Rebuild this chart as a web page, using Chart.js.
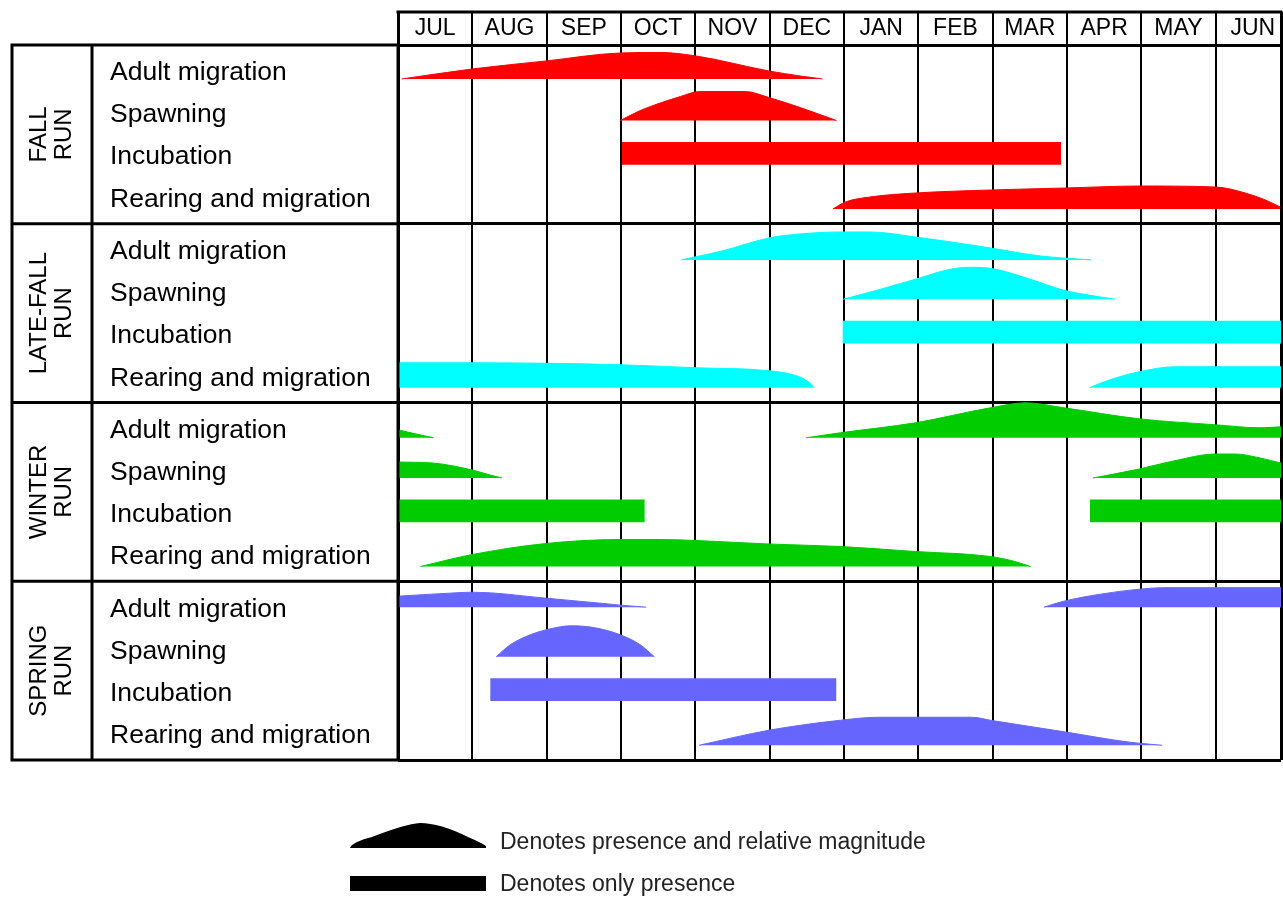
<!DOCTYPE html>
<html>
<head>
<meta charset="utf-8">
<script src="https://cdn.jsdelivr.net/npm/chart.js@4.4.1/dist/chart.umd.min.js"></script>
<style>html,body{margin:0;padding:0;background:#fff;overflow:hidden}</style>
</head>
<body>
<canvas id="runChart" width="1283" height="900"></canvas>
<script>
// ---- data ----
const months = ['JUL','AUG','SEP','OCT','NOV','DEC','JAN','FEB','MAR','APR','MAY','JUN'];
const runNames = [['FALL','RUN'],['LATE-FALL','RUN'],['WINTER','RUN'],['SPRING','RUN']];
const stages = ['Adult migration','Spawning','Incubation','Rearing and migration'];
const runColors = ['#ff0000','#00ffff','#00cc00','#6666ff'];

// [months since 1 Jul, relative magnitude]
const fallAdult = [[0.05,0],[1.0,10],[1.99,18],[2.99,26],[3.53,26.5],[4.01,23],[4.99,8],[5.41,3],[5.71,0]];
const fallSpawning = [[2.99,0],[3.26,10],[3.80,24],[4.06,29],[4.67,29],[4.99,23],[5.41,13],[5.90,0]];
const fallIncubation = [3.01, 8.92];
const fallRearing = [[5.85,0],[6.02,7],[6.35,12],[6.96,16],[7.97,19],[8.98,21],[9.99,23],[11.0,22],[11.4,16],[11.67,9],[11.87,2]];

const lateAdult = [[3.81,0],[4.06,4],[4.36,9],[4.99,22],[5.41,26],[5.95,28],[6.35,28],[6.96,23],[7.97,12],[8.64,4],[9.33,0]];
const lateSpawning = [[5.99,0],[6.49,10],[6.96,20],[7.43,30],[7.70,32],[7.97,31],[8.51,20],[8.96,9],[9.31,4],[9.65,0]];
const lateIncubation = [5.98, 11.88];
const lateRearingA = [[0,25],[1.0,25],[1.99,24.5],[2.99,23],[4.01,20],[4.99,17],[5.36,12],[5.52,6],[5.60,0]];
const lateRearingB = [[9.30,0],[9.58,8],[9.97,16],[10.46,21],[11.0,21],[11.88,21]];

const winterAdultA = [[0,8],[0.23,4],[0.48,0]];
const winterAdultB = [[5.49,0],[5.95,5],[6.96,15],[7.97,30],[8.44,35],[8.96,30],[9.97,19],[11.0,13],[11.6,10],[11.88,11]];
const winterSpawningA = [[0,16],[0.47,15],[1.0,8],[1.24,3],[1.40,0]];
const winterSpawningB = [[9.35,0],[9.97,9],[10.43,17],[11.0,24],[11.27,24],[11.6,20],[11.88,15]];
const winterIncubationA = [0, 3.32];
const winterIncubationB = [9.31, 11.88];
const winterRearing = [[0.30,0],[1.0,12],[1.99,23],[2.99,27],[3.53,27],[4.01,26],[4.99,22.5],[5.95,20],[6.96,15],[7.97,10],[8.30,5],[8.51,0]];

const springAdultA = [[0,11],[0.69,14],[1.0,15],[1.99,9],[2.72,4],[2.99,2],[3.34,0]];
const springAdultB = [[8.69,0],[8.96,6],[9.45,13],[9.97,18],[10.32,19.5],[11.88,19.5]];
const springSpawning = [[1.32,0],[1.51,12],[1.78,22],[2.05,28],[2.33,31],[2.65,29],[2.99,22],[3.26,12],[3.45,0]];
const springIncubation = [1.24, 5.90];
const springRearing = [[4.05,0],[4.99,15],[5.95,25],[6.46,28],[7.73,28],[7.97,25],[8.96,13.5],[9.85,3],[10.28,0]];

const legendText = ['Denotes presence and relative magnitude','Denotes only presence'];

// [run, stage, profile]
const humps = [
  [0,0,fallAdult],[0,1,fallSpawning],[0,3,fallRearing],
  [1,0,lateAdult],[1,1,lateSpawning],[1,3,lateRearingA],[1,3,lateRearingB],
  [2,0,winterAdultA],[2,0,winterAdultB],[2,1,winterSpawningA],[2,1,winterSpawningB],[2,3,winterRearing],
  [3,0,springAdultA],[3,0,springAdultB],[3,1,springSpawning],[3,3,springRearing]
];
const bars = [[0,fallIncubation],[1,lateIncubation],[2,winterIncubationA],[2,winterIncubationB],[3,springIncubation]];

// ---- layout (rows inside a run) ----
const X_MAX = 11.88;
const MAG_PER_ROW = 44.7;
const HEADER_H = 33;
const ADULT_BASE = [0.76, 0.81, 0.79, 0.58];
const SPAWN_BASE = 1.69, REAR_BASE = 3.67;
const BAR_TOP = 2.17, BAR_BOTTOM = 2.68;
const LABEL_POS = [0.627, 1.566, 2.506, 3.457];
const FONT = 'Liberation Sans';

function humpSet(run, stage, pts){
  const base = run*4 + (stage === 0 ? ADULT_BASE[run] : stage === 1 ? SPAWN_BASE : REAR_BASE);
  return {
    data: pts.map(p => ({x: p[0], y: base - p[1]/MAG_PER_ROW})),
    fill: {value: base},
    backgroundColor: runColors[run],
    borderColor: runColors[run],
    borderWidth: 1,
    pointRadius: 0,
    cubicInterpolationMode: 'monotone'
  };
}
function barSet(run, span){
  const top = run*4 + BAR_TOP;
  return {
    data: [{x: span[0], y: top}, {x: span[1], y: top}],
    fill: {value: run*4 + BAR_BOTTOM},
    backgroundColor: runColors[run],
    borderColor: runColors[run],
    borderWidth: 0,
    pointRadius: 0
  };
}

const xTicks = [];
for (let i = 0; i < 12; i++){ xTicks.push(i, i + 0.5); }
xTicks.push(X_MAX);
const yTicks = [];
runNames.forEach((r, g) => LABEL_POS.forEach(p => yTicks.push(g*4 + p)));

const tableFrame = {
  id: 'tableFrame',
  afterDraw(chart){
    const {ctx, chartArea: a, scales: {y}} = chart;
    const left = 12, split = 92;
    ctx.save();
    ctx.strokeStyle = '#000';
    ctx.lineWidth = 3;
    ctx.beginPath();
    ctx.moveTo(a.left - 1.5, a.top - HEADER_H);
    ctx.lineTo(a.right + 1.5, a.top - HEADER_H);
    ctx.rect(left, a.top, a.left - left, a.bottom - a.top);
    ctx.moveTo(split, a.top); ctx.lineTo(split, a.bottom);
    [4, 8, 12].forEach(v => {
      const py = y.getPixelForValue(v);
      ctx.moveTo(left, py); ctx.lineTo(a.left, py);
    });
    ctx.stroke();

    // run names, rotated
    ctx.fillStyle = '#000';
    ctx.font = '24px ' + FONT;
    ctx.textAlign = 'center';
    ctx.textBaseline = 'middle';
    runNames.forEach((lines, g) => {
      const cy = (y.getPixelForValue(g*4) + y.getPixelForValue(g*4 + 4)) / 2;
      ctx.save();
      ctx.translate((left + split) / 2, cy);
      ctx.rotate(-Math.PI / 2);
      lines.forEach((t, i) => ctx.fillText(t, 0, (i - (lines.length - 1) / 2) * 25));
      ctx.restore();
    });

    // legend
    ctx.beginPath();
    ctx.moveTo(350, 848);
    ctx.quadraticCurveTo(352, 842, 372, 837);
    ctx.quadraticCurveTo(405, 824, 420, 823);
    ctx.quadraticCurveTo(440, 823, 468, 837);
    ctx.quadraticCurveTo(482, 843, 486, 846);
    ctx.lineTo(486, 848);
    ctx.closePath();
    ctx.fill();
    ctx.fillRect(350, 876, 136, 15);
    ctx.fillStyle = '#222';
    ctx.textAlign = 'left';
    ctx.font = '23px ' + FONT;
    ctx.fillText(legendText[0], 500, 843);
    ctx.fillText(legendText[1], 500, 885);
    ctx.restore();
  }
};

new Chart('runChart', {
  type: 'line',
  data: {
    datasets: humps.map(h => humpSet(h[0], h[1], h[2])).concat(bars.map(b => barSet(b[0], b[1])))
  },
  options: {
    responsive: false,
    animation: false,
    layout: {padding: {left: 110, top: 12, right: 2, bottom: 140}},
    plugins: {legend: {display: false}, tooltip: {enabled: false}},
    scales: {
      x: {
        type: 'linear', position: 'top', min: 0, max: X_MAX,
        afterBuildTicks: s => { s.ticks = xTicks.map(v => ({value: v})); },
        afterFit: s => { s.height = HEADER_H; },
        ticks: {
          autoSkip: false, maxRotation: 0, minRotation: 0, padding: -30,
          color: '#000', font: {family: FONT, size: 23},
          callback: v => (v % 1 === 0.5 ? months[Math.floor(v)] : '')
        },
        grid: {
          tickLength: HEADER_H,
          color: c => (c.tick && c.tick.value % 1 === 0.5 ? 'rgba(0,0,0,0)' : '#000'),
          lineWidth: c => (c.tick && (c.tick.value === 0 || c.tick.value === X_MAX) ? 3 : 2)
        },
        border: {display: true, color: '#000', width: 3}
      },
      y: {
        type: 'linear', position: 'left', min: 0, max: 16, reverse: true,
        afterBuildTicks: s => { s.ticks = yTicks.map(v => ({value: v})); },
        afterFit: s => { s.width = 288; },
        ticks: {
          autoSkip: false, crossAlign: 'far', color: '#000',
          font: {family: FONT, size: 26.5},
          callback: (v, i) => stages[i % 4]
        },
        grid: {display: false},
        border: {display: false}
      },
      yg: {
        type: 'linear', position: 'right', min: 0, max: 16, reverse: true,
        afterBuildTicks: s => { s.ticks = [0, 4, 8, 12, 16].map(v => ({value: v})); },
        ticks: {display: false},
        grid: {color: '#000', lineWidth: 3, drawTicks: false},
        border: {display: false}
      }
    }
  },
  plugins: [tableFrame]
});
</script>
</body>
</html>
